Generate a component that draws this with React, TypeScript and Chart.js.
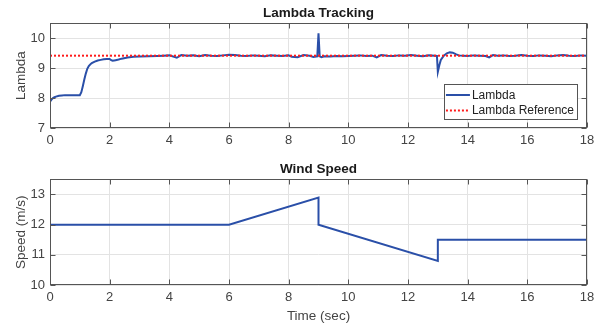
import React, { useEffect, useRef } from 'react';
import { Chart, registerables } from 'chart.js';

Chart.register(...registerables);

// ---------- data ----------
const lambdaTime = [
  0, 0.05, 0.1, 0.15, 0.2, 0.3, 0.4, 0.5, 0.7, 0.9, 1.0,
  1.05, 1.1, 1.15, 1.2, 1.25, 1.3, 1.35, 1.4, 1.5, 1.6, 1.7, 1.8, 1.9, 2.0,
  2.05, 2.1, 2.2, 2.3, 2.4, 2.6, 2.8, 3.0, 3.3, 3.6,
  3.8, 4.0, 4.25, 4.4, 4.6, 4.8, 5.0, 5.2, 5.4, 5.6, 5.8, 6.0, 6.2, 6.4, 6.6,
  6.8, 7.0, 7.2, 7.4, 7.6, 7.8, 8.0, 8.1, 8.3, 8.5, 8.7, 8.83, 8.96,
  9.0, 9.04, 9.1, 9.2, 9.4, 9.6, 9.8, 10.0, 10.2, 10.4, 10.6, 10.8, 10.95,
  11.1, 11.3, 11.5, 11.7, 11.9, 12.1, 12.3, 12.5, 12.7, 12.9, 12.97,
  13.0, 13.05, 13.1, 13.2, 13.3, 13.4, 13.5, 13.6, 13.7, 13.85, 14.0,
  14.2, 14.4, 14.6, 14.72, 14.85, 15.0, 15.2, 15.4, 15.6, 15.8, 16.0,
  16.2, 16.4, 16.6, 16.8, 17.0, 17.2, 17.4, 17.6, 17.8, 18.0,
];
const lambdaValues = [
  7.88, 7.95, 8.0, 8.03, 8.05, 8.08, 8.09, 8.1, 8.1, 8.1, 8.1,
  8.2, 8.4, 8.62, 8.82, 8.98, 9.07, 9.13, 9.17, 9.22, 9.26, 9.28, 9.3, 9.31, 9.31,
  9.27, 9.25, 9.27, 9.29, 9.32, 9.36, 9.38, 9.39, 9.4, 9.41,
  9.42, 9.43, 9.35, 9.44, 9.42, 9.43, 9.4, 9.44, 9.42, 9.41, 9.43, 9.45, 9.44, 9.42, 9.41,
  9.43, 9.42, 9.4, 9.43, 9.42, 9.41, 9.43, 9.38, 9.37, 9.44, 9.42, 9.38, 9.4,
  10.17, 9.4, 9.37, 9.4, 9.39, 9.41, 9.4, 9.41, 9.42, 9.43, 9.41, 9.42, 9.36,
  9.44, 9.42, 9.41, 9.43, 9.42, 9.44, 9.42, 9.4, 9.43, 9.42, 9.41,
  8.88, 9.1, 9.28, 9.42, 9.5, 9.53, 9.52, 9.47, 9.43, 9.42, 9.41,
  9.43, 9.42, 9.41, 9.36, 9.44, 9.42, 9.43, 9.41, 9.42, 9.44, 9.42,
  9.41, 9.43, 9.42, 9.4, 9.43, 9.44, 9.42, 9.41, 9.43, 9.42,
];
const refTime = [0, 18];
const refValues = [9.42, 9.42];

const windTime = [0, 6, 9, 9, 13, 13, 18];
const windValues = [12, 12, 12.9, 12.0, 10.8, 11.5, 11.5];

const xTickValues = [0, 2, 4, 6, 8, 10, 12, 14, 16, 18];
const lambdaTickValues = [7, 8, 9, 10];
const windTickValues = [10, 11, 12, 13];

const legendLabels = ['Lambda', 'Lambda Reference'];

// ---------- styles ----------
const FONT = "'Liberation Sans', Arial, Helvetica, sans-serif";
const BLUE = '#2a4fa8';
const RED = '#ff1a1a';
const FRAME = '#555555';
const GRID = '#e3e3e3';
const TEXT = '#444444';

const toPoints = (xs: number[], ys: number[]) => xs.map((x, i) => ({ x, y: ys[i] }));

const framePlugin = {
  id: 'matlabFrame',
  afterDraw(chart: any) {
    const { ctx, chartArea } = chart;
    const xs = chart.scales.x;
    const ys = chart.scales.y;
    const l = Math.round(chartArea.left) + 0.5;
    const r = Math.round(chartArea.right) - 0.5;
    const t = Math.round(chartArea.top) + 0.5;
    const b = Math.round(chartArea.bottom) - 0.5;
    ctx.save();
    ctx.strokeStyle = FRAME;
    ctx.lineWidth = 1;
    ctx.strokeRect(l, t, r - l, b - t);
    const len = 5;
    ctx.beginPath();
    xs.ticks.forEach((tk: any) => {
      const px = Math.round(xs.getPixelForValue(tk.value)) + 0.5;
      ctx.moveTo(px, b);
      ctx.lineTo(px, b - len);
      ctx.moveTo(px, t);
      ctx.lineTo(px, t + len);
    });
    ys.ticks.forEach((tk: any) => {
      const py = Math.round(ys.getPixelForValue(tk.value)) + 0.5;
      ctx.moveTo(l, py);
      ctx.lineTo(l + len, py);
      ctx.moveTo(r, py);
      ctx.lineTo(r - len, py);
    });
    ctx.stroke();
    ctx.restore();
  },
};

const legendPlugin = {
  id: 'insideLegend',
  afterDatasetsDraw(chart: any, _args: any, opts: any) {
    if (!opts || !opts.show) return;
    const { ctx, chartArea } = chart;
    ctx.save();
    ctx.font = `12px ${FONT}`;
    const textW = Math.max(...legendLabels.map((s) => ctx.measureText(s).width));
    const sample = 24;
    const w = 2 + sample + 2 + textW + 4;
    const h = 36;
    const right = Math.round(chartArea.right) - 9;
    const bottom = Math.round(chartArea.bottom) - 8;
    const left = right - w;
    const top = bottom - h;
    ctx.fillStyle = '#ffffff';
    ctx.fillRect(left, top, w, h);
    ctx.strokeStyle = FRAME;
    ctx.lineWidth = 1;
    ctx.strokeRect(Math.round(left) + 0.5, top + 0.5, Math.round(w) - 1, h - 1);
    const rows = [top + 11, top + 26.5];
    const styles = [
      { color: BLUE, dash: [] as number[] },
      { color: RED, dash: [2, 2] },
    ];
    rows.forEach((y, i) => {
      ctx.beginPath();
      ctx.setLineDash(styles[i].dash);
      ctx.strokeStyle = styles[i].color;
      ctx.lineWidth = 2;
      ctx.moveTo(left + 2, y);
      ctx.lineTo(left + 2 + sample, y);
      ctx.stroke();
      ctx.setLineDash([]);
      ctx.fillStyle = '#222222';
      ctx.textBaseline = 'middle';
      ctx.textAlign = 'left';
      ctx.fillText(legendLabels[i], left + 2 + sample + 2, y + 0.5);
    });
    ctx.restore();
  },
};

function makeOptions(cfg: {
  title: string;
  titlePad: { top: number; bottom: number };
  yMin: number;
  yMax: number;
  yTicks: number[];
  yTitle: string;
  xTitle?: string;
  xHeight: number;
  legend: boolean;
}) {
  return {
    responsive: false,
    animation: false as const,
    events: [],
    layout: { padding: { left: 0, right: 14, top: 0, bottom: 0 } },
    plugins: {
      legend: { display: false },
      tooltip: { enabled: false },
      title: {
        display: true,
        text: cfg.title,
        fullSize: false,
        color: '#1a1a1a',
        font: { family: FONT, size: 13.5, weight: 'bold' as const, lineHeight: 1.2 },
        padding: cfg.titlePad,
      },
      insideLegend: { show: cfg.legend },
    },
    scales: {
      x: {
        type: 'linear' as const,
        min: 0,
        max: 18,
        afterBuildTicks: (s: any) => {
          s.ticks = xTickValues.map((v) => ({ value: v }));
        },
        afterFit: (s: any) => {
          s.height = cfg.xHeight;
        },
        grid: { color: GRID, lineWidth: 1, drawTicks: false },
        border: { display: false },
        ticks: {
          color: TEXT,
          padding: 5,
          maxRotation: 0,
          font: { family: FONT, size: 13 },
        },
        title: cfg.xTitle
          ? {
              display: true,
              text: cfg.xTitle,
              color: TEXT,
              font: { family: FONT, size: 13.5 },
              padding: { top: 0, bottom: 4 },
            }
          : { display: false },
      },
      y: {
        type: 'linear' as const,
        min: cfg.yMin,
        max: cfg.yMax,
        afterBuildTicks: (s: any) => {
          s.ticks = cfg.yTicks.map((v) => ({ value: v }));
        },
        afterFit: (s: any) => {
          s.width = 50;
        },
        grid: { color: GRID, lineWidth: 1, drawTicks: false },
        border: { display: false },
        ticks: {
          color: TEXT,
          padding: 5,
          font: { family: FONT, size: 13 },
        },
        title: {
          display: true,
          text: cfg.yTitle,
          color: TEXT,
          font: { family: FONT, size: 13.5 },
          padding: { top: 13, bottom: 0 },
        },
      },
    },
  };
}

function LambdaChart() {
  const ref = useRef<HTMLCanvasElement | null>(null);
  useEffect(() => {
    if (!ref.current) return;
    const chart = new Chart(ref.current, {
      type: 'line',
      data: {
        datasets: [
          {
            label: legendLabels[1],
            data: toPoints(refTime, refValues),
            borderColor: RED,
            borderWidth: 2,
            borderDash: [2, 2],
            pointRadius: 0,
            tension: 0,
            order: 0,
          },
          {
            label: legendLabels[0],
            data: toPoints(lambdaTime, lambdaValues),
            borderColor: BLUE,
            borderWidth: 2,
            pointRadius: 0,
            tension: 0,
            order: 1,
          },
        ],
      },
      options: makeOptions({
        title: 'Lambda Tracking',
        titlePad: { top: 5.2, bottom: 2 },
        yMin: 7,
        yMax: 10.5,
        yTicks: lambdaTickValues,
        yTitle: 'Lambda',
        xHeight: 22,
        legend: true,
      }) as any,
      plugins: [framePlugin, legendPlugin],
    });
    return () => chart.destroy();
  }, []);
  return <canvas ref={ref} width={601} height={150} style={{ display: 'block' }} />;
}

function WindChart() {
  const ref = useRef<HTMLCanvasElement | null>(null);
  useEffect(() => {
    if (!ref.current) return;
    const chart = new Chart(ref.current, {
      type: 'line',
      data: {
        datasets: [
          {
            label: 'Wind Speed',
            data: toPoints(windTime, windValues),
            borderColor: BLUE,
            borderWidth: 2,
            pointRadius: 0,
            tension: 0,
          },
        ],
      },
      options: makeOptions({
        title: 'Wind Speed',
        titlePad: { top: 11.2, bottom: 2 },
        yMin: 10,
        yMax: 13.5,
        yTicks: windTickValues,
        yTitle: 'Speed (m/s)',
        xTitle: 'Time (sec)',
        xHeight: 43,
        legend: false,
      }) as any,
      plugins: [framePlugin],
    });
    return () => chart.destroy();
  }, []);
  return <canvas ref={ref} width={601} height={178} style={{ display: 'block' }} />;
}

export default function App() {
  return (
    <div
      style={{
        position: 'absolute',
        left: 0,
        top: 0,
        width: 601,
        height: 328,
        background: '#ffffff',
      }}
    >
      <LambdaChart />
      <WindChart />
    </div>
  );
}
